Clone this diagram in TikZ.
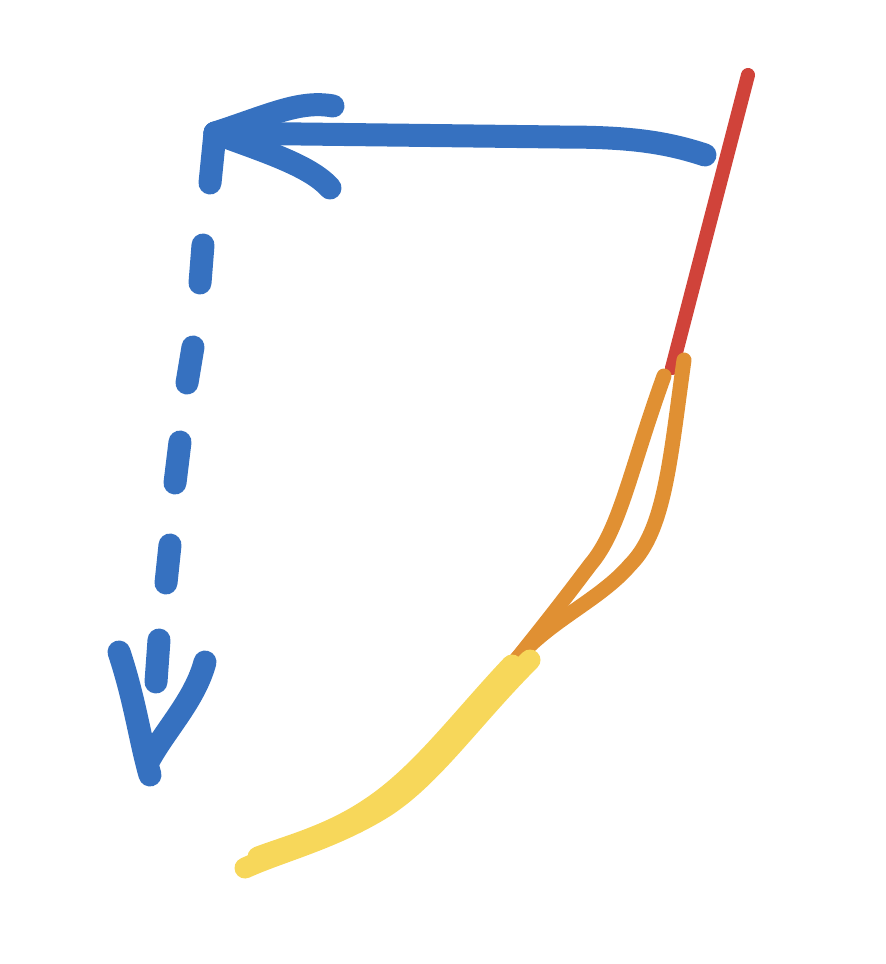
\documentclass[tikz,border=0pt]{standalone}
\definecolor{sblue}{HTML}{3671C0}
\definecolor{sred}{HTML}{D0433A}
\definecolor{sorange}{HTML}{E09033}
\definecolor{syellow}{HTML}{F7D75A}
\begin{document}
\begin{tikzpicture}[x=1pt,y=-1pt,
  bluestroke/.style={draw=sblue,line width=23pt,line cap=round,line join=round},
  redstroke/.style={draw=sred,line width=14pt,line cap=round},
  orangestroke/.style={draw=sorange,line width=15pt,line cap=round},
  yellowstroke/.style={draw=syellow,line width=21pt,line cap=round}]
\useasboundingbox (0,0) rectangle (886,964);
% red
\coordinate (r1) at (748,75);
\coordinate (r2) at (672,368);
\draw[redstroke] (r1) -- (r2);
% orange
\coordinate (o1) at (664,376);
\coordinate (o2) at (684,360);
\coordinate (o3) at (516,660);
\draw[orangestroke] (o1) .. controls (630,470) and (620,530) .. (590,565) .. controls (560,605) and (540,630) .. (o3);
\draw[orangestroke] (o2) .. controls (670,460) and (665,530) .. (630,565) .. controls (600,600) and (550,620) .. (o3);
% yellow
\coordinate (y1) at (530,660);
\coordinate (y2) at (245,868);
\draw[yellowstroke] (y1) .. controls (470,720) and (430,780) .. (380,810) .. controls (330,840) and (280,852) .. (y2);
\draw[yellowstroke] (512,665) .. controls (460,720) and (420,775) .. (370,808) .. controls (330,835) and (290,845) .. (258,857);
% blue horizontal arrow
\coordinate (b1) at (705,155);
\coordinate (b2) at (215,133);
\draw[bluestroke] (b1) .. controls (660,140) and (620,137) .. (560,137) -- (b2);
\draw[bluestroke] (333,106) .. controls (300,100) and (270,115) .. (b2);
\draw[bluestroke] (b2) .. controls (260,150) and (310,165) .. (330,188);
% blue vertical dashed
\coordinate (v0) at (210,183);
\draw[bluestroke] (b2) -- (v0);
\draw[bluestroke] (203,245) -- (200,283);
\draw[bluestroke] (193,347) -- (187,383);
\draw[bluestroke] (180,442) -- (175,483);
\draw[bluestroke] (170,545) -- (166,583);
\draw[bluestroke] (159,640) -- (156,682);
% down arrowhead
\coordinate (tip) at (150,775);
\draw[bluestroke] (119,652) .. controls (135,700) and (140,740) .. (tip);
\draw[bluestroke] (205,662) .. controls (195,700) and (165,730) .. (148,762);
\end{tikzpicture}
\end{document}
